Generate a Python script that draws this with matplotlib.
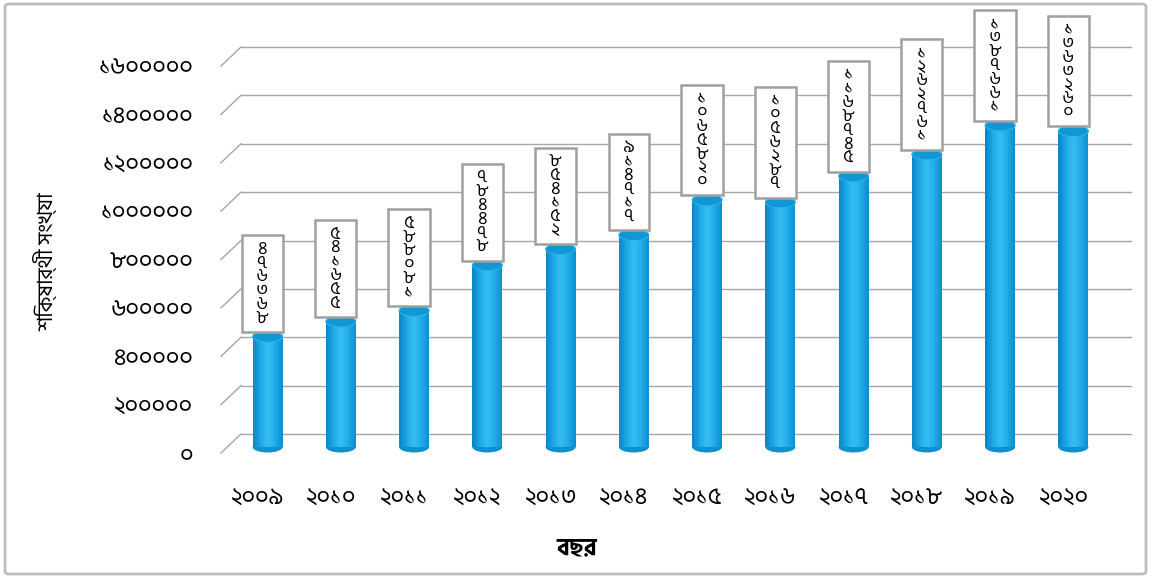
import numpy as np
import matplotlib
matplotlib.use("Agg")
import matplotlib.pyplot as plt
from matplotlib.patches import Ellipse, FancyBboxPatch
from matplotlib.transforms import Affine2D, IdentityTransform
from matplotlib.colors import LinearSegmentedColormap


years = ["২০০৯", "২০১০", "২০১১", "২০১২", "২০১৩", "২০১৪",
         "২০১৫", "২০১৬", "২০১৭", "২০১৮", "২০১৯", "২০২০"]
learners = [476368, 541655, 588081, 784478, 854152, 914717,
            1065820, 1056287, 1168745, 1262761, 1387661, 1363260]
yticks = [0, 200000, 400000, 600000, 800000, 1000000, 1200000, 1400000, 1600000]

to_bn = str.maketrans("0123456789", "০১২৩৪৫৬৭৮৯")

plt.rcParams["font.family"] = ["Hind Siliguri", "DejaVu Sans"]

W, H = 1154, 578
fig = plt.figure(figsize=(W / 100, H / 100), dpi=100)
ax = fig.add_axes([221 / W, 125 / H, 879 / W, 387 / H])
ax.set_xlim(-0.5, 11.5)
ax.set_ylim(0, 1600000)
for s in ax.spines.values():
    s.set_visible(False)
ax.patch.set_visible(False)

x = np.arange(len(years))
ax.set_xticks(x, years, fontsize=17)
ax.set_yticks(yticks, [str(t).translate(to_bn) for t in yticks], fontsize=17)
ax.tick_params(axis="both", length=0)
ax.tick_params(axis="y", pad=20)
ax.tick_params(axis="x", pad=25)

# back wall gridlines + side diagonals
back = ax.transData + Affine2D().translate(20, 19)
for t in yticks:
    ax.plot([-0.5, 11.65], [t, t], transform=back, color="#A6A6A6", lw=1,
            clip_on=False, zorder=1)
    p = ax.transData.transform((-0.5, t))
    ax.plot([p[0], p[0] + 20], [p[1], p[1] + 19], transform=IdentityTransform(),
            color="#A6A6A6", lw=1, clip_on=False, zorder=1)

# cylinders
y0 = ax.transData.transform((0, 0))[1]
k = 0.958
bar_t = (ax.transData + Affine2D().translate(0, -y0).scale(1, k)
         .translate(10, y0 + 6))
bw = 0.41
n = 18
cmap = LinearSegmentedColormap.from_list(
    "cyl", ["#0C86C8", "#1EA8E6", "#36BDF2", "#22ACE8", "#0E90D0"])
px_per_val = 48.4 / 200000 * k
eh = 11 / px_per_val

for i in range(len(years)):
    ax.add_patch(Ellipse((x[i], 0), bw, eh, transform=bar_t, fc="#0E90D0",
                         ec="none", zorder=2, clip_on=False))
for j in range(n):
    off = -bw / 2 + (j + 0.5) * bw / n
    ax.bar(x + off, learners, width=bw / n * 1.05, color=cmap(j / (n - 1)),
           lw=0, transform=bar_t, zorder=3, clip_on=False)
for i in range(len(years)):
    ax.add_patch(Ellipse((x[i], learners[i]), bw, eh, transform=bar_t,
                         fc="#1196D6", ec="#2DB2EC", lw=0.8, zorder=4,
                         clip_on=False))

# stacked value labels
for i, v in enumerate(learners):
    txt = "\n".join("  " + d + "  " for d in str(v).translate(to_bn))
    ax.annotate(txt, xy=(x[i], v), xycoords=bar_t, xytext=(-5, 11),
                textcoords="offset pixels", ha="center", va="bottom",
                fontsize=13, linespacing=0.9, zorder=6,
                bbox=dict(boxstyle="square,pad=0.35", fc="white",
                          ec="#A0A0A0", lw=1.8))

fig.text(45 / W, 1 - 262 / H, "শিক্ষার্থী সংখ্যা", rotation=90, fontsize=15,
         ha="center", va="center")
fig.text(577 / W, 1 - 548 / H, "বছর", fontsize=17, fontweight="bold",
         ha="center", va="center")

fig.patches.append(FancyBboxPatch((5 / W, 4 / H), 1141 / W, 570 / H,
                                  boxstyle="round,pad=0,rounding_size=0.004",
                                  transform=fig.transFigure, fc="none",
                                  ec="#BDBDBD", lw=2))

fig.savefig("out.png", dpi=100)
